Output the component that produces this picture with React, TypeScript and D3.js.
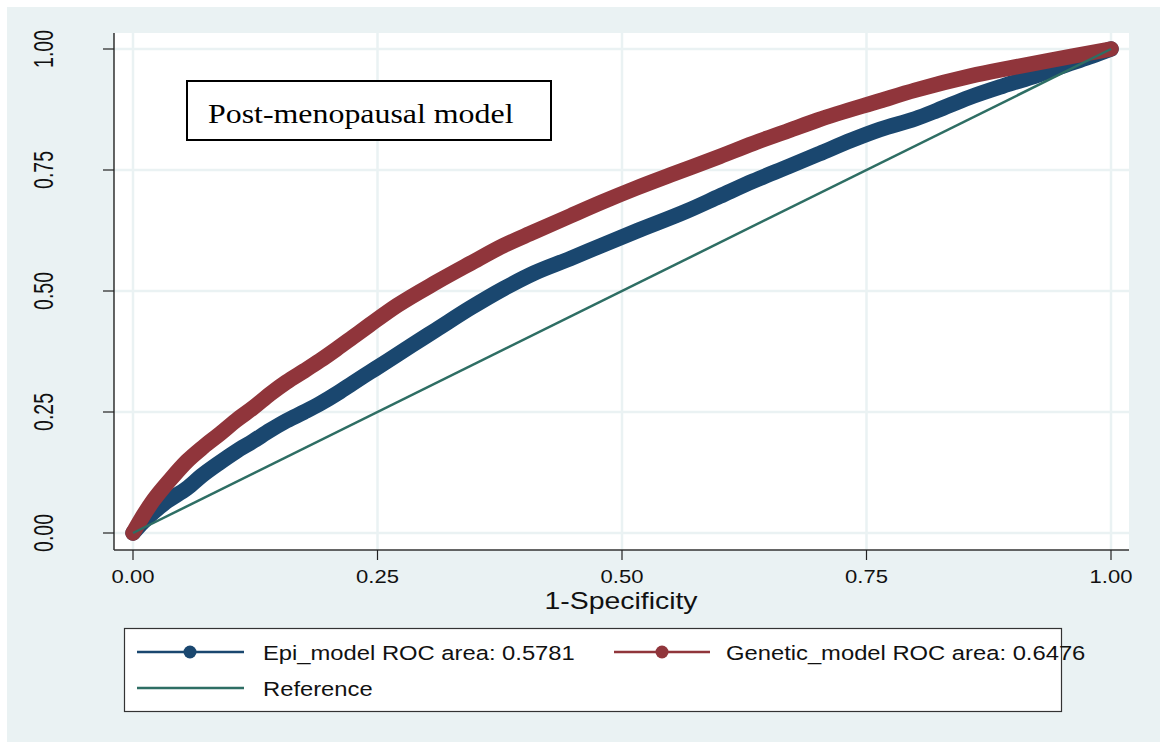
import React from "react";
import * as d3 from "d3";

// ---- data ----
const epiX = [0, 0.01, 0.021, 0.035, 0.055, 0.07, 0.089, 0.105, 0.123, 0.14, 0.157, 0.175, 0.191, 0.21, 0.225, 0.242, 0.259, 0.285, 0.31, 0.345, 0.379, 0.41, 0.447, 0.48, 0.515, 0.566, 0.6, 0.634, 0.67, 0.702, 0.735, 0.764, 0.8, 0.822, 0.855, 0.89, 0.925, 0.958, 0.98, 1];
const epiY = [0, 0.022, 0.043, 0.066, 0.092, 0.118, 0.146, 0.168, 0.19, 0.212, 0.232, 0.25, 0.267, 0.29, 0.31, 0.332, 0.354, 0.388, 0.42, 0.465, 0.505, 0.537, 0.567, 0.595, 0.624, 0.665, 0.696, 0.727, 0.757, 0.784, 0.812, 0.834, 0.856, 0.873, 0.9, 0.924, 0.946, 0.97, 0.985, 1];
const genX = [0, 0.008, 0.021, 0.038, 0.055, 0.072, 0.089, 0.105, 0.123, 0.14, 0.157, 0.175, 0.191, 0.208, 0.225, 0.242, 0.27, 0.31, 0.345, 0.379, 0.41, 0.447, 0.48, 0.515, 0.55, 0.6, 0.634, 0.67, 0.7, 0.764, 0.8, 0.856, 0.9, 0.958, 1];
const genY = [0, 0.028, 0.068, 0.11, 0.148, 0.178, 0.205, 0.232, 0.259, 0.287, 0.312, 0.335, 0.356, 0.38, 0.405, 0.43, 0.47, 0.518, 0.557, 0.594, 0.622, 0.655, 0.684, 0.713, 0.74, 0.778, 0.805, 0.831, 0.853, 0.893, 0.915, 0.944, 0.962, 0.984, 1];
const refX = [0, 1];
const refY = [0, 1];
const xTicks = [0, 0.25, 0.5, 0.75, 1];
const yTicks = [0, 0.25, 0.5, 0.75, 1];
const seriesLabels = ["Epi_model ROC area: 0.5781", "Genetic_model ROC area: 0.6476", "Reference"];
const titleText = "Post-menopausal model";
const xTitle = "1-Specificity";

const NAVY = "#1a476f";
const MAROON = "#90353b";
const REFC = "#2e6e64";
const BG = "#eaf2f3";
const SANS = "'Liberation Sans', Arial, sans-serif";
const SERIF = "'Liberation Serif', 'Times New Roman', serif";
const SX = 1.16;

export default function App() {
  const W = 1165, H = 742;
  const pl = 114, pr = 1129, pt = 33, pb = 550;
  const x = d3.scaleLinear().domain([0, 1]).range([133, 1111]);
  const y = d3.scaleLinear().domain([0, 1]).range([533, 49]);
  const fmt = d3.format(".2f");
  const line = d3.line<[number, number]>().x(d => x(d[0])).y(d => y(d[1]));
  const smooth = d3.line<[number, number]>().x(d => x(d[0])).y(d => y(d[1])).curve(d3.curveMonotoneX);
  const epi = epiX.map((v, i) => [v, epiY[i]] as [number, number]);
  const gen = genX.map((v, i) => [v, genY[i]] as [number, number]);
  const ref = refX.map((v, i) => [v, refY[i]] as [number, number]);

  return (
    <svg width={W} height={H} style={{ position: "absolute", left: 0, top: 0 }}>
      <rect x={0} y={0} width={W} height={H} fill="#ffffff" />
      <rect x={7} y={7} width={1153} height={H - 7} fill={BG} />
      <rect x={pl} y={pt} width={pr - pl} height={pb - pt} fill="#ffffff" />
      {/* grid */}
      {xTicks.map(t => (
        <line key={"gx" + t} x1={x(t)} x2={x(t)} y1={pt} y2={pb} stroke={BG} strokeWidth={2.5} />
      ))}
      {yTicks.map(t => (
        <line key={"gy" + t} x1={pl} x2={pr} y1={y(t)} y2={y(t)} stroke={BG} strokeWidth={2.5} />
      ))}
      {/* axes */}
      <line x1={pl} x2={pl} y1={pt} y2={pb} stroke="#111" strokeWidth={1.3} />
      <line x1={pl} x2={pr} y1={pb} y2={pb} stroke="#333" strokeWidth={1.3} />
      {yTicks.map(t => (
        <g key={"yt" + t}>
          <line x1={103} x2={pl} y1={y(t)} y2={y(t)} stroke="#222" strokeWidth={1.2} />
          <text transform={`translate(53,${y(t)}) scale(1.45,1) rotate(-90)`} textAnchor="middle"
            fontFamily={SANS} fontSize={19.5} fill="#111">{fmt(t)}</text>
        </g>
      ))}
      {xTicks.map(t => (
        <g key={"xt" + t}>
          <line x1={x(t)} x2={x(t)} y1={pb} y2={560} stroke="#222" strokeWidth={1.2} />
          <text transform={`translate(${x(t)},583) scale(${SX},1)`} textAnchor="middle"
            fontFamily={SANS} fontSize={19} fill="#111">{fmt(t)}</text>
        </g>
      ))}
      <text transform={`translate(621,609) scale(${SX},1)`} textAnchor="middle"
        fontFamily={SANS} fontSize={24.5} fill="#111">{xTitle}</text>
      {/* curves */}
      <path d={smooth(epi) || ""} fill="none" stroke={NAVY} strokeWidth={15.5}
        strokeLinejoin="round" strokeLinecap="round" />
      <path d={smooth(gen) || ""} fill="none" stroke={MAROON} strokeWidth={15.5}
        strokeLinejoin="round" strokeLinecap="round" />
      <path d={line(ref) || ""} fill="none" stroke={REFC} strokeWidth={2.5} />
      {/* title box */}
      <rect x={187} y={81} width={364} height={59} fill="#ffffff" stroke="#000" strokeWidth={2} />
      <text transform={`translate(208,123) scale(${SX},1)`} fontFamily={SERIF} fontSize={27.5} fill="#000">{titleText}</text>
      {/* legend */}
      <rect x={124.5} y={628.5} width={937} height={83} fill="#ffffff" stroke="#333" strokeWidth={1.2} />
      <line x1={137} x2={244} y1={652} y2={652} stroke={NAVY} strokeWidth={2.5} />
      <circle cx={190} cy={652} r={6.5} fill={NAVY} />
      <text transform={`translate(263,660) scale(${SX},1)`} fontFamily={SANS} fontSize={20.5} fill="#111">{seriesLabels[0]}</text>
      <line x1={614} x2={710} y1={652} y2={652} stroke={MAROON} strokeWidth={2.5} />
      <circle cx={662} cy={652} r={6.5} fill={MAROON} />
      <text transform={`translate(726,660) scale(${SX},1)`} fontFamily={SANS} fontSize={20.5} fill="#111">{seriesLabels[1]}</text>
      <line x1={137} x2={244} y1={688} y2={688} stroke={REFC} strokeWidth={2.5} />
      <text transform={`translate(263,696) scale(${SX},1)`} fontFamily={SANS} fontSize={20.5} fill="#111">{seriesLabels[2]}</text>
    </svg>
  );
}
